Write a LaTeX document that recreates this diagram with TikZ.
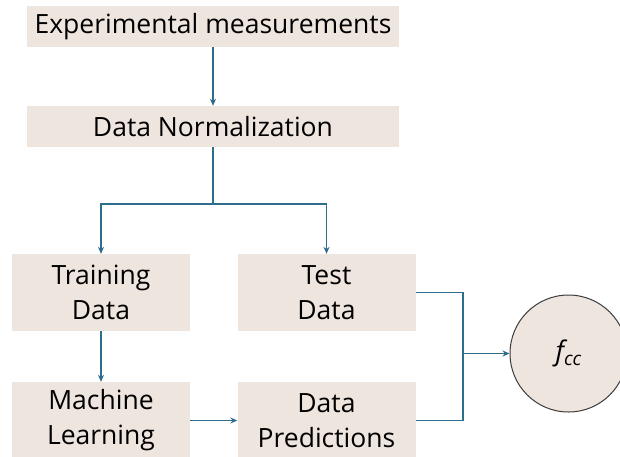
\documentclass[tikz,border=0pt]{standalone}
\usepackage{fontspec}
\setmainfont{Open Sans}
\usetikzlibrary{arrows.meta}
\definecolor{boxfill}{HTML}{EFE5DF}
\definecolor{linkcol}{HTML}{2F6D8C}
\definecolor{ringcol}{HTML}{3C3C3C}
\tikzset{
  stage/.style={fill=boxfill, draw=none, inner sep=0pt, align=center,
    font=\fontsize{26.5}{35}\selectfont},
  wide/.style={stage, minimum width=372pt, minimum height=41pt},
  half/.style={stage, minimum width=178pt, minimum height=77pt},
  link/.style={draw=linkcol, line width=1.3pt},
  flow/.style={link, -{Stealth[length=7pt,width=6pt]}},
}
\begin{document}
\begin{tikzpicture}[x=1pt, y=-1pt]
  \useasboundingbox (0,0) rectangle (620,456);
  \fill[white] (0,0) rectangle (620,456);

  % stages of the workflow
  \node[wide] (meas) at (213,26.5) {Experimental measurements};
  \node[wide] (norm) at (213,126.5) {Data Normalization};
  \node[half] (train) at (101,292.5) {Training\\Data};
  \node[half] (test)  at (326.5,292.5) {Test\\Data};
  \node[half] (ml)    at (101,420.5) {Machine\\Learning};
  \node[half] (pred)  at (326.5,420.5) {Data\\Predictions};
  \node[circle, fill=boxfill, draw=ringcol, line width=1pt,
        minimum size=117pt, inner sep=0pt,
        font=\fontsize{27}{30}\selectfont] (fcc) at (568.5,353.5)
        {\itshape f\raisebox{-0.35ex}{\fontsize{19}{21}\selectfont cc}};

  % branching points of the connectors
  \coordinate (split) at (213,204);
  \coordinate (merge) at (463,353.5);

  \draw[flow] (meas.south) -- (norm.north);
  \draw[link] (norm.south) -- (split);
  \draw[flow] (split) -| (train.north);
  \draw[flow] (split) -| (test.north);
  \draw[flow] (train.south) -- (ml.north);
  \draw[flow] (ml.east) -- (pred.west);
  \draw[link] (test.east) -| (merge);
  \draw[link] (pred.east) -| (merge);
  \draw[flow] (merge) -- (fcc.west);
\end{tikzpicture}
\end{document}
